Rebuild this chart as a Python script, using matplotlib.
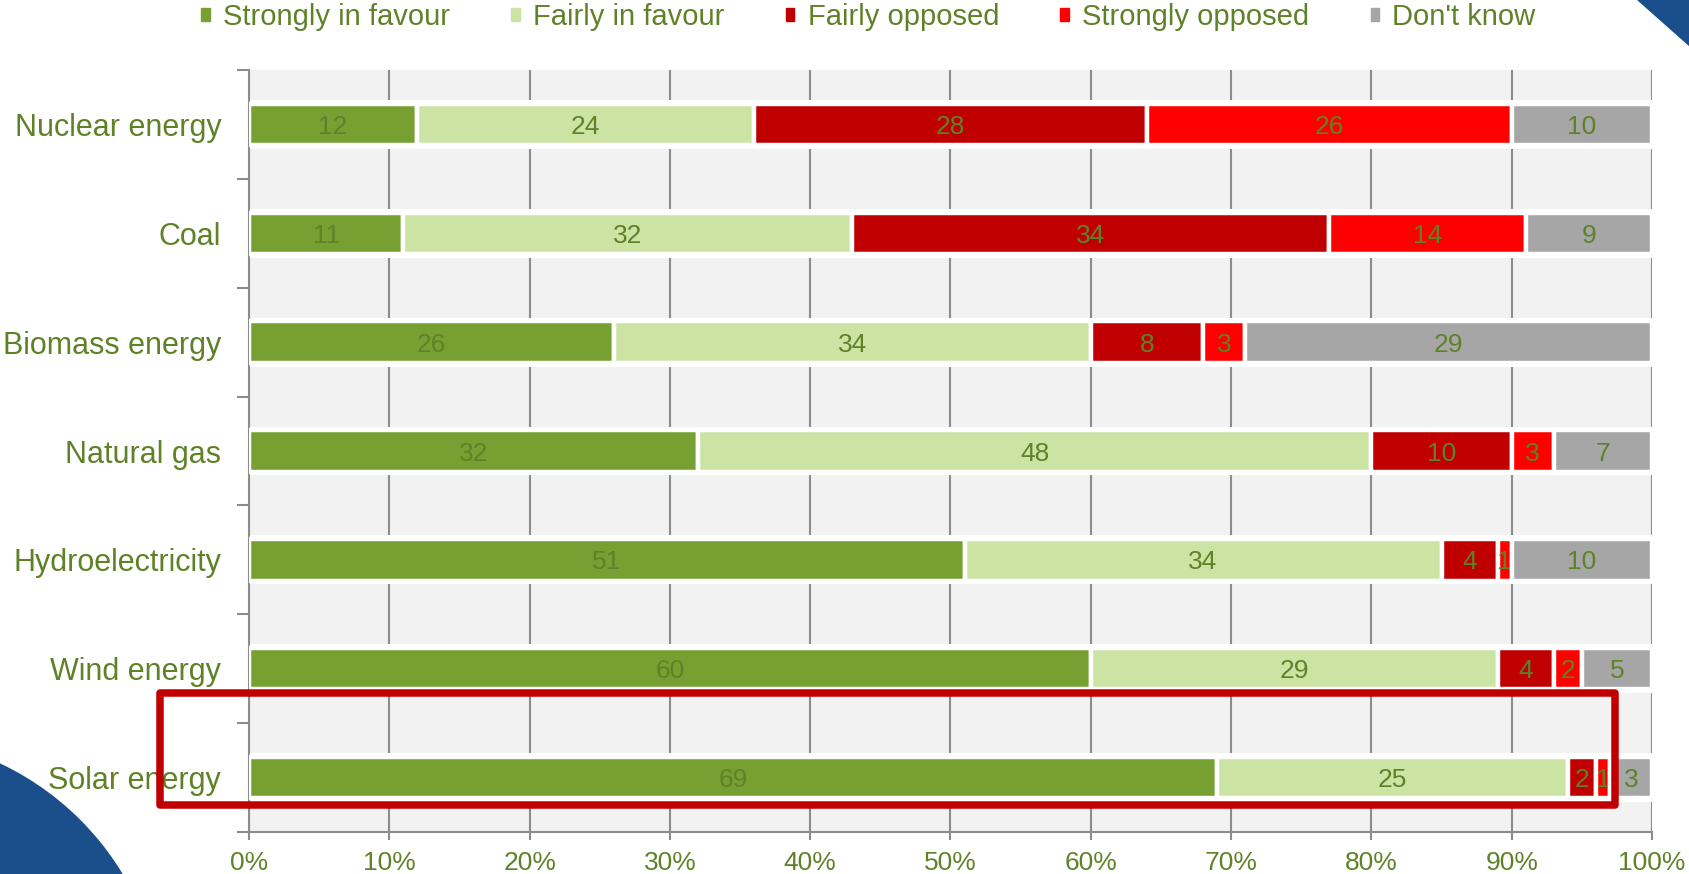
import numpy as np
import matplotlib.pyplot as plt
from matplotlib.patches import Rectangle, Circle, Polygon

categories = ["Nuclear energy", "Coal", "Biomass energy", "Natural gas",
              "Hydroelectricity", "Wind energy", "Solar energy"]
strongly_favour = [12, 11, 26, 32, 51, 60, 69]
fairly_favour = [24, 32, 34, 48, 34, 29, 25]
fairly_opposed = [28, 34, 8, 10, 4, 4, 2]
strongly_opposed = [26, 14, 3, 3, 1, 2, 1]
dont_know = [10, 9, 29, 7, 10, 5, 3]
series_names = ["Strongly in favour", "Fairly in favour", "Fairly opposed",
                "Strongly opposed", "Don't know"]
x_ticks = list(range(0, 101, 10))

colors = ["#77A033", "#CCE4A3", "#C00000", "#FF0000", "#A6A6A6"]
TXT = "#5F8228"
GRID = "#8C8C8C"
plt.rcParams["font.family"] = ["Liberation Sans", "DejaVu Sans"]
W, H = 1690, 874

fig = plt.figure(figsize=(W / 100, H / 100), dpi=100)
ax = fig.add_axes([249 / W, 1 - 832 / H, (1652 - 249) / W, (832 - 70) / H])
ax.set_facecolor("#F2F2F2")
ax.set_axisbelow(True)

y = np.arange(len(categories))
# white band behind each bar
ax.barh(y, 100, height=0.45, color="white", zorder=2)

series = [strongly_favour, fairly_favour, fairly_opposed, strongly_opposed, dont_know]
left = np.zeros(len(categories))
for name, vals, c in zip(series_names, series, colors):
    bars = ax.barh(y, vals, left=left, height=0.38, color=c, edgecolor="white",
                   linewidth=3.2, zorder=3)
    labels = ax.bar_label(bars, label_type="center", color=TXT, fontsize=19)
    for lb in labels:
        lb.set_va("center_baseline")
    left += np.array(vals)

ax.set_xlim(0, 100)
ax.set_ylim(len(categories) - 0.5, -0.5)
ax.set_xticks(x_ticks)
ax.set_xticklabels([f"{t}%" for t in x_ticks], color=TXT, fontsize=19)
ax.set_yticks(y)
ax.set_yticklabels(categories, color=TXT, fontsize=22)
ax.set_yticks(np.arange(-0.5, len(categories)), minor=True)
ax.tick_params(axis="y", which="major", length=0, pad=20)
ax.tick_params(axis="y", which="minor", length=9, width=1.5, color=GRID, direction="out")
ax.tick_params(axis="x", length=6, width=1.5, color=GRID, pad=8)
ax.grid(axis="x", color=GRID, linewidth=1.5)
for s in ["top", "right"]:
    ax.spines[s].set_visible(False)
for s in ["left", "bottom"]:
    ax.spines[s].set_color(GRID)
    ax.spines[s].set_linewidth(1.5)

handles = [Rectangle((0, 0), 1, 1, color=c) for c in colors]
leg = fig.legend(handles, series_names, loc="center left",
                 bbox_to_anchor=(201 / W, 1 - 17 / H), ncol=5, frameon=False,
                 fontsize=21, handlelength=0.3, handleheight=0.3, handletextpad=0.45,
                 columnspacing=2.1, borderpad=0, borderaxespad=0)
for t in leg.get_texts():
    t.set_color(TXT)

# overlay decorations in pixel coordinates
over = fig.add_axes([0, 0, 1, 1], zorder=10)
over.set_xlim(0, W)
over.set_ylim(H, 0)
over.axis("off")
over.add_patch(Circle((-122, 1022), 286, color="#1A4F8C", lw=0))
over.add_patch(Polygon([(1637, 0), (W, 0), (W, 47)], closed=True, color="#1A4F8C", lw=0))
over.add_patch(Rectangle((160, 693), 1615 - 160, 805 - 693, fill=False,
                         edgecolor="#C00000", linewidth=5.4, joinstyle="round"))

fig.savefig("out.png", dpi=100)
